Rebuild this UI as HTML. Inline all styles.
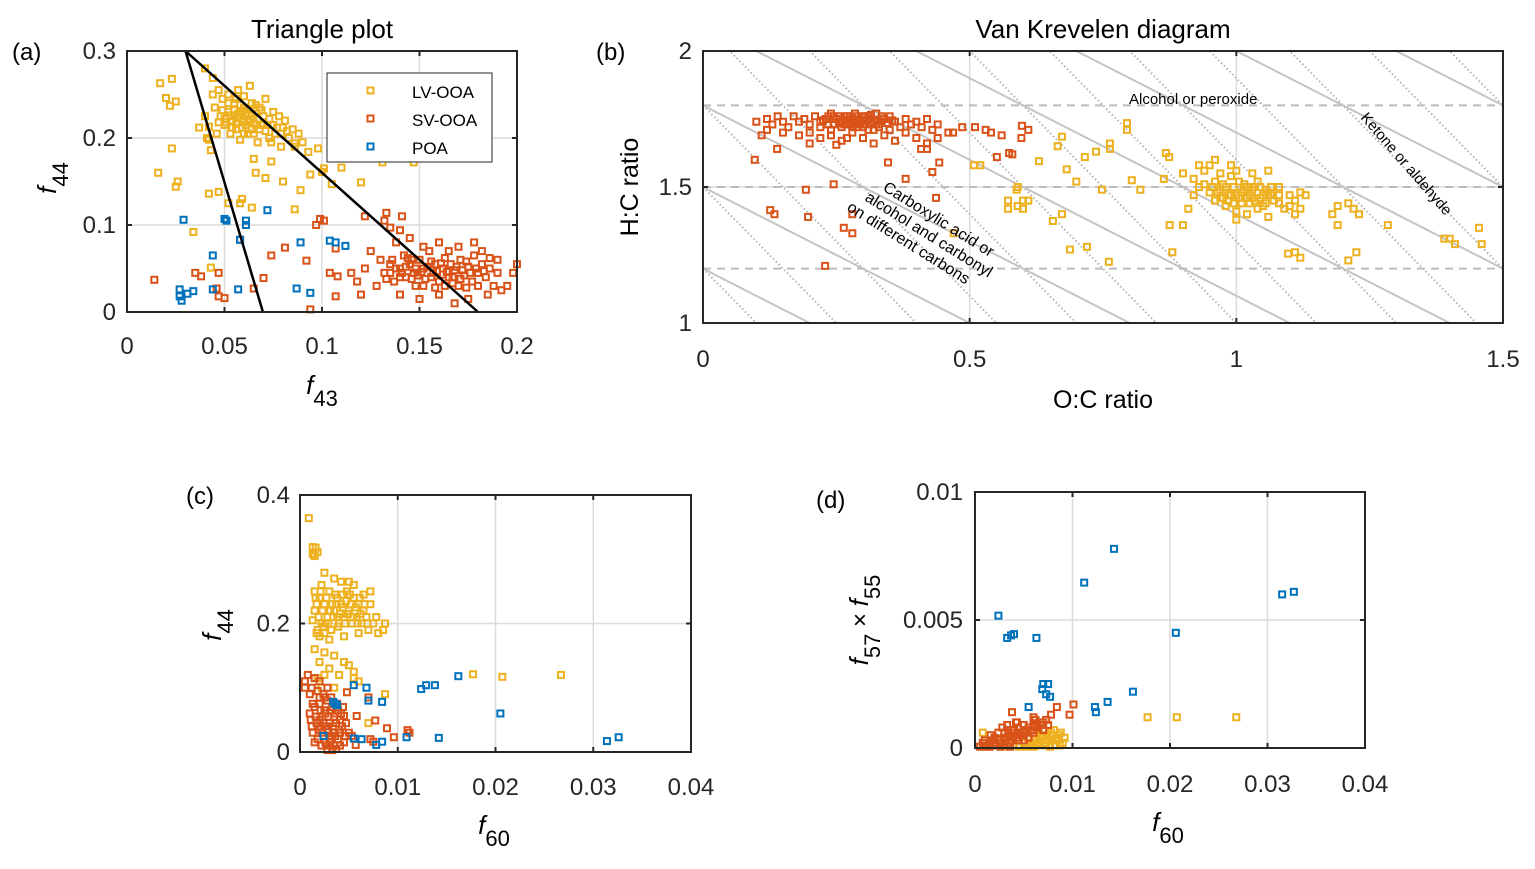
<!DOCTYPE html>
<html><head><meta charset="utf-8"><style>
html,body{margin:0;padding:0;background:#fff;}
svg{display:block;font-family:"Liberation Sans","DejaVu Sans",sans-serif;}
.tk{font-size:24px;fill:#262626;}
.ttl{font-size:26px;fill:#000;}
.lab{font-size:24px;fill:#000;}
</style></head><body>
<svg id="fig" width="1535" height="869" viewBox="0 0 1535 869" xmlns="http://www.w3.org/2000/svg">
<g id="grids"></g>
<g id="guides"></g>
<g id="marks"></g>
<g id="frames"></g>
<g id="texts">
<text class="lab" x="12" y="60">(a)</text>
<text class="lab" x="596" y="60">(b)</text>
<text class="lab" x="186" y="504">(c)</text>
<text class="lab" x="816" y="508">(d)</text>
<text class="ttl" x="322" y="38" text-anchor="middle">Triangle plot</text>
<text class="ttl" x="1103" y="38" text-anchor="middle">Van Krevelen diagram</text>
<text x="322" y="394" text-anchor="middle"><tspan font-style="italic" font-size="26">f</tspan><tspan font-size="22" dy="12">43</tspan></text>
<text transform="translate(56,178) rotate(-90)" text-anchor="middle"><tspan font-style="italic" font-size="26">f</tspan><tspan font-size="22" dy="12">44</tspan></text>
<text x="1103" y="408" text-anchor="middle" font-size="25">O:C ratio</text>
<text transform="translate(638,187) rotate(-90)" text-anchor="middle" font-size="25">H:C ratio</text>
<text x="494" y="834" text-anchor="middle"><tspan font-style="italic" font-size="26">f</tspan><tspan font-size="22" dy="12">60</tspan></text>
<text transform="translate(221,625) rotate(-90)" text-anchor="middle"><tspan font-style="italic" font-size="26">f</tspan><tspan font-size="22" dy="12">44</tspan></text>
<text x="1168" y="831" text-anchor="middle"><tspan font-style="italic" font-size="26">f</tspan><tspan font-size="22" dy="12">60</tspan></text>
<text transform="translate(868,620) rotate(-90)" text-anchor="middle"><tspan font-style="italic" font-size="26">f</tspan><tspan font-size="22" dy="12">57</tspan><tspan font-size="24" dy="-12"> × </tspan><tspan font-style="italic" font-size="26">f</tspan><tspan font-size="22" dy="12">55</tspan></text>
<text x="1129" y="104" font-size="15">Alcohol or peroxide</text>
<text transform="translate(1360,118) rotate(49)" font-size="15">Ketone or aldehyde</text>
<g transform="translate(882,190) rotate(32)" font-size="16">
<text x="0" y="0">Carboxylic acid or</text>
<text x="-10" y="18">alcohol and carbonyl</text>
<text x="-20" y="36">on different carbons</text>
</g>
<g>
<rect x="327" y="73" width="165" height="89" fill="#fff" stroke="#262626" stroke-width="1"/>
<rect x="367.5" y="87.5" width="6" height="6" fill="none" stroke="#EDB120" stroke-width="2"/>
<text x="412" y="98" font-size="17">LV-OOA</text>
<rect x="367.5" y="115.5" width="6" height="6" fill="none" stroke="#D95319" stroke-width="2"/>
<text x="412" y="126" font-size="17">SV-OOA</text>
<rect x="367.5" y="143.5" width="6" height="6" fill="none" stroke="#0072BD" stroke-width="2"/>
<text x="412" y="154" font-size="17">POA</text>
</g>
</g>
</svg>
<script>
// ---------- data ----------
const aXTicks=[0,0.05,0.1,0.15,0.2], aXTickLabels=["0","0.05","0.1","0.15","0.2"];
const aYTicks=[0,0.1,0.2,0.3], aYTickLabels=["0","0.1","0.2","0.3"];
const bXTicks=[0,0.5,1,1.5], bXTickLabels=["0","0.5","1","1.5"];
const bYTicks=[1,1.5,2], bYTickLabels=["1","1.5","2"];
const cXTicks=[0,0.01,0.02,0.03,0.04], cXTickLabels=["0","0.01","0.02","0.03","0.04"];
const cYTicks=[0,0.2,0.4], cYTickLabels=["0","0.2","0.4"];
const dXTicks=[0,0.01,0.02,0.03,0.04], dXTickLabels=["0","0.01","0.02","0.03","0.04"];
const dYTicks=[0,0.005,0.01], dYTickLabels=["0","0.005","0.01"];

const triangleLines=[[[0.030,0.3],[0.0697,0]],[[0.030,0.3],[0.18,0]]];
const vkSolidIntercepts=[1.2,1.5,1.8,2.1,2.4,2.7,3.0,3.3];
const vkDottedIntercepts=[1.2,1.5,1.8,2.1,2.4,2.7,3.0,3.3,3.6,3.9,4.2,4.5,4.8];
const vkDashedLevels=[1.8,1.5,1.2];

const aLV=[[0.045,0.235],[0.048,0.225],[0.05,0.215],[0.052,0.23],[0.054,0.22],[0.055,0.24],[0.056,0.21],[0.058,0.225],[0.06,0.235],[0.061,0.215],[0.062,0.205],[0.064,0.228],[0.065,0.218],[0.066,0.238],[0.068,0.21],[0.07,0.225],[0.072,0.215],[0.073,0.2],[0.075,0.23],[0.077,0.212],[0.079,0.205],[0.081,0.22],[0.083,0.2],[0.085,0.21],[0.04,0.225],[0.042,0.213],[0.046,0.205],[0.049,0.245],[0.052,0.25],[0.057,0.255],[0.06,0.248],[0.063,0.26],[0.047,0.255],[0.044,0.25],[0.058,0.198],[0.053,0.205],[0.067,0.195],[0.071,0.245],[0.074,0.195],[0.078,0.225],[0.088,0.205],[0.09,0.195],[0.086,0.19],[0.059,0.23],[0.055,0.225],[0.057,0.218],[0.062,0.222],[0.066,0.228],[0.05,0.222],[0.069,0.232],[0.064,0.21],[0.06,0.205],[0.037,0.212],[0.041,0.2],
[0.051,0.218],[0.053,0.226],[0.055,0.232],[0.056,0.216],[0.058,0.238],[0.059,0.212],[0.061,0.226],[0.062,0.232],[0.063,0.218],[0.065,0.205],[0.066,0.215],[0.067,0.222],[0.068,0.235],[0.07,0.215],[0.071,0.208],[0.073,0.222],[0.075,0.215],[0.076,0.205],[0.054,0.212],[0.052,0.24],[0.056,0.245],[0.06,0.22],[0.064,0.24],[0.057,0.228],[0.049,0.232],[0.047,0.218],[0.08,0.212],[0.082,0.208],
[0.017,0.263],[0.023,0.268],[0.020,0.246],[0.025,0.242],[0.022,0.237],[0.040,0.28],[0.044,0.269],[0.023,0.188],[0.016,0.16],[0.025,0.144],[0.026,0.15],[0.043,0.186],[0.042,0.198],[0.034,0.092],[0.042,0.136],[0.047,0.138],[0.052,0.125],[0.058,0.125],[0.064,0.12],[0.059,0.13],[0.065,0.176],[0.066,0.16],[0.071,0.154],[0.074,0.173],[0.08,0.15],[0.089,0.14],[0.086,0.118],[0.094,0.158],[0.093,0.184],[0.098,0.188],[0.1,0.161],[0.101,0.165],[0.11,0.166],[0.105,0.147],[0.12,0.149],[0.131,0.172],[0.147,0.172],[0.086,0.194],[0.079,0.19],[0.043,0.051]];
const aSV=[[0.13,0.06],[0.132,0.045],[0.135,0.055],[0.137,0.035],[0.14,0.05],[0.142,0.065],[0.143,0.04],[0.145,0.055],[0.147,0.045],[0.148,0.03],[0.15,0.06],[0.152,0.05],[0.153,0.038],[0.155,0.07],[0.157,0.045],[0.158,0.055],[0.16,0.035],[0.162,0.05],[0.163,0.062],[0.165,0.04],[0.166,0.055],[0.168,0.048],[0.17,0.03],[0.171,0.06],[0.173,0.042],[0.175,0.052],[0.177,0.035],[0.178,0.065],[0.18,0.045],[0.182,0.055],[0.184,0.04],[0.186,0.05],[0.188,0.03],[0.19,0.045],[0.192,0.025],[0.185,0.02],[0.175,0.015],[0.168,0.01],[0.16,0.02],[0.15,0.015],[0.14,0.02],[0.128,0.03],[0.122,0.05],[0.118,0.035],[0.115,0.045],[0.12,0.02],[0.125,0.07],[0.138,0.08],[0.145,0.085],[0.152,0.075],[0.16,0.08],[0.165,0.07],[0.17,0.075],[0.182,0.07],[0.186,0.062],[0.144,0.062],[0.148,0.05],[0.156,0.058],[0.135,0.045],[0.14,0.04],[0.162,0.043],[0.167,0.033],[0.174,0.028],[0.18,0.03],[0.178,0.08],[0.19,0.06],[0.2,0.055],[0.195,0.03],[0.198,0.045],
[0.138,0.05],[0.141,0.045],[0.143,0.052],[0.146,0.038],[0.149,0.042],[0.151,0.046],[0.154,0.052],[0.156,0.04],[0.159,0.047],[0.161,0.056],[0.164,0.046],[0.167,0.04],[0.169,0.052],[0.172,0.048],[0.176,0.045],[0.179,0.05],[0.183,0.047],[0.146,0.06],[0.152,0.03],[0.158,0.028],[0.163,0.03],[0.171,0.038],[0.174,0.058],[0.136,0.06],[0.133,0.038],
[0.014,0.037],[0.035,0.045],[0.038,0.041],[0.047,0.045],[0.046,0.027],[0.047,0.018],[0.05,0.016],[0.058,0.083],[0.065,0.027],[0.07,0.039],[0.074,0.065],[0.081,0.074],[0.092,0.059],[0.094,0.003],[0.097,0.1],[0.099,0.107],[0.101,0.105],[0.107,0.073],[0.107,0.018],[0.104,0.045],[0.108,0.041],[0.122,0.11],[0.133,0.114],[0.141,0.11],[0.132,0.105],[0.135,0.097],[0.14,0.094]];
const aPOA=[[0.029,0.106],[0.05,0.107],[0.051,0.105],[0.061,0.105],[0.061,0.1],[0.072,0.117],[0.058,0.083],[0.044,0.065],[0.027,0.026],[0.027,0.018],[0.028,0.013],[0.031,0.021],[0.034,0.024],[0.044,0.026],[0.057,0.026],[0.087,0.027],[0.094,0.022],[0.089,0.08],[0.104,0.082],[0.107,0.08],[0.112,0.076]];

const bSV=[[0.10,1.74],[0.12,1.75],[0.13,1.73],[0.14,1.76],[0.15,1.74],[0.16,1.72],[0.17,1.76],[0.18,1.74],[0.19,1.75],[0.2,1.73],[0.21,1.76],[0.22,1.74],[0.23,1.75],[0.24,1.77],[0.245,1.73],[0.25,1.75],[0.26,1.74],[0.265,1.76],[0.27,1.73],[0.28,1.75],[0.285,1.77],[0.29,1.74],[0.3,1.76],[0.305,1.73],[0.31,1.75],[0.32,1.74],[0.325,1.77],[0.33,1.73],[0.34,1.75],[0.35,1.76],[0.36,1.74],[0.37,1.72],[0.38,1.75],[0.39,1.73],[0.4,1.74],[0.41,1.72],[0.42,1.75],[0.43,1.71],[0.44,1.73],[0.12,1.71],[0.15,1.70],[0.18,1.69],[0.2,1.70],[0.22,1.68],[0.24,1.69],[0.26,1.67],[0.28,1.70],[0.3,1.68],[0.32,1.66],[0.34,1.69],[0.36,1.67],[0.38,1.70],[0.4,1.68],[0.42,1.66],[0.2,1.66],[0.25,1.655],[0.27,1.68],[0.29,1.72],[0.31,1.71],[0.33,1.72],[0.35,1.71],[0.26,1.72],[0.28,1.72],[0.3,1.72],[0.32,1.71],[0.27,1.76],[0.29,1.76],[0.31,1.76],[0.22,1.72],[0.24,1.71],[0.11,1.69],[0.44,1.68],
[0.225,1.745],[0.235,1.73],[0.245,1.76],[0.255,1.735],[0.265,1.745],[0.275,1.76],[0.285,1.73],[0.295,1.745],[0.305,1.76],[0.315,1.735],[0.325,1.745],[0.335,1.76],[0.345,1.735],[0.355,1.745],[0.235,1.76],[0.255,1.76],[0.275,1.735],[0.295,1.73],[0.315,1.765],[0.335,1.74],[0.285,1.745],[0.305,1.745],[0.265,1.73],[0.325,1.73],
[0.097,1.60],[0.139,1.64],[0.193,1.49],[0.245,1.51],[0.126,1.415],[0.134,1.40],[0.197,1.39],[0.28,1.40],[0.264,1.35],[0.28,1.33],[0.229,1.21],[0.347,1.59],[0.38,1.53],[0.437,1.46],[0.43,1.555],[0.443,1.59],[0.409,1.64],[0.42,1.64],[0.551,1.61],[0.574,1.625],[0.58,1.62],[0.51,1.72],[0.53,1.71],[0.54,1.70],[0.56,1.69],[0.598,1.725],[0.597,1.68],[0.61,1.71],[0.486,1.72],[0.469,1.70],[0.46,1.70]];
const bLV=[[0.9,1.55],[0.92,1.53],[0.93,1.5],[0.94,1.56],[0.95,1.48],[0.96,1.52],[0.97,1.46],[0.98,1.5],[0.99,1.54],[1.0,1.47],[1.01,1.44],[1.02,1.5],[1.03,1.46],[1.04,1.52],[1.05,1.43],[1.06,1.48],[1.07,1.45],[1.08,1.5],[1.09,1.42],[1.1,1.47],[1.11,1.45],[1.12,1.48],[1.13,1.47],[0.96,1.45],[0.98,1.43],[1.0,1.41],[1.02,1.4],[0.97,1.55],[1.0,1.56],[1.03,1.55],[0.95,1.58],[0.99,1.58],[1.06,1.56],[1.01,1.48],[0.99,1.47],[1.03,1.49],[1.05,1.47],[0.94,1.51],[0.92,1.47],[0.91,1.42],[1.08,1.44],[1.1,1.43],[1.04,1.42],[1.0,1.38],[1.06,1.39],[0.97,1.49],[1.02,1.46],[1.08,1.47],[0.93,1.58],[0.96,1.6],
[0.955,1.5],[0.965,1.48],[0.975,1.51],[0.985,1.47],[0.995,1.5],[1.005,1.46],[1.015,1.49],[1.025,1.47],[1.035,1.5],[1.045,1.46],[1.055,1.49],[1.065,1.47],[0.985,1.45],[1.005,1.52],[1.025,1.44],[1.045,1.5],[0.975,1.46],[1.015,1.51],[1.035,1.45],[1.065,1.5],[0.995,1.44],[1.055,1.44],
[0.795,1.735],[0.795,1.71],[0.673,1.685],[0.665,1.65],[0.763,1.66],[0.763,1.64],[0.737,1.63],[0.716,1.61],[0.63,1.595],[0.508,1.58],[0.52,1.58],[0.682,1.565],[0.70,1.52],[0.748,1.49],[0.804,1.525],[0.82,1.49],[0.864,1.53],[0.868,1.625],[0.874,1.61],[0.59,1.50],[0.588,1.49],[0.572,1.45],[0.572,1.42],[0.59,1.43],[0.60,1.45],[0.61,1.45],[0.6,1.42],[0.673,1.40],[0.656,1.375],[0.47,1.33],[0.688,1.27],[0.72,1.28],[0.761,1.225],[0.88,1.26],[0.875,1.36],[0.90,1.36],[1.097,1.255],[1.11,1.26],[1.12,1.24],[1.21,1.23],[1.225,1.26],[1.21,1.44],[1.22,1.42],[1.23,1.40],[1.19,1.43],[1.18,1.40],[1.19,1.36],[1.284,1.36],[1.39,1.31],[1.40,1.31],[1.41,1.29],[1.455,1.35],[1.46,1.29],[1.12,1.42],[1.11,1.40],[1.11,1.45]];

const cLV=[[0.0015,0.22],[0.002,0.24],[0.0022,0.2],[0.0025,0.23],[0.0028,0.21],[0.003,0.25],[0.0032,0.19],[0.0035,0.22],[0.0038,0.24],[0.004,0.2],[0.0042,0.23],[0.0045,0.21],[0.0048,0.25],[0.005,0.22],[0.0053,0.2],[0.0055,0.24],[0.0058,0.21],[0.006,0.23],[0.0063,0.2],[0.0065,0.22],[0.0068,0.21],[0.007,0.19],[0.0072,0.23],[0.0075,0.2],[0.0078,0.21],[0.008,0.185],[0.0085,0.19],[0.0087,0.2],[0.0015,0.25],[0.0018,0.19],[0.002,0.18],[0.0025,0.185],[0.003,0.175],[0.0035,0.27],[0.0042,0.265],[0.005,0.265],[0.0055,0.26],[0.0022,0.26],[0.0065,0.245],[0.0072,0.25],[0.0045,0.18],[0.006,0.185],[0.0013,0.205],[0.0033,0.23],[0.0047,0.235],[0.0038,0.21],
[0.0017,0.23],[0.0019,0.21],[0.0023,0.22],[0.0027,0.24],[0.0029,0.2],[0.0031,0.22],[0.0034,0.21],[0.0037,0.23],[0.0039,0.195],[0.0041,0.215],[0.0044,0.225],[0.0046,0.2],[0.0049,0.215],[0.0052,0.23],[0.0054,0.21],[0.0057,0.225],[0.0059,0.2],[0.0062,0.215],[0.0066,0.23],[0.0069,0.2],[0.0016,0.24],[0.0021,0.25],[0.0026,0.2],[0.0036,0.245],[0.0043,0.245],[0.0051,0.245],[0.0061,0.24],[0.0017,0.185],[0.0024,0.195],
[0.0015,0.16],[0.002,0.14],[0.0025,0.155],[0.003,0.13],[0.0035,0.15],[0.004,0.12],[0.0045,0.14],[0.005,0.135],[0.0055,0.125],[0.006,0.11],[0.0025,0.12],[0.0018,0.115],[0.0035,0.1],
[0.0009,0.364],[0.0013,0.319],[0.0016,0.318],[0.0013,0.308],[0.0015,0.305],[0.0018,0.311],[0.0025,0.279],[0.0087,0.09],[0.007,0.045],[0.0055,0.115],[0.0177,0.121],[0.0207,0.117],[0.0267,0.12],[0.0022,0.1]];
const cSV=[[0.001,0.06],[0.0012,0.04],[0.0015,0.07],[0.0018,0.02],[0.002,0.05],[0.0022,0.03],[0.0025,0.065],[0.0027,0.01],[0.003,0.045],[0.0032,0.025],[0.0035,0.055],[0.0037,0.005],[0.004,0.035],[0.0042,0.06],[0.0045,0.015],[0.0047,0.045],[0.005,0.03],[0.0015,0.015],[0.002,0.075],[0.0028,0.08],[0.0033,0.07],[0.0038,0.075],[0.0026,0.04],[0.003,0.02],[0.0034,0.04],[0.0023,0.055],[0.0019,0.035],[0.0041,0.05],[0.0036,0.025],[0.0028,0.003],[0.0033,0.003],[0.0012,0.1],[0.0005,0.11],[0.0008,0.12],[0.0015,0.115],[0.002,0.11],[0.0028,0.1],[0.0005,0.1],[0.001,0.09],
[0.0011,0.05],[0.0013,0.03],[0.0016,0.055],[0.0017,0.045],[0.0021,0.065],[0.0021,0.04],[0.0024,0.025],[0.0024,0.045],[0.0026,0.06],[0.0029,0.035],[0.0029,0.055],[0.0031,0.065],[0.0031,0.015],[0.0034,0.03],[0.0036,0.06],[0.0037,0.045],[0.0039,0.02],[0.0039,0.065],[0.0041,0.03],[0.0043,0.04],[0.0044,0.07],[0.0046,0.025],[0.0026,0.015],[0.0022,0.01],[0.0035,0.01],[0.0041,0.01],[0.002,0.085],[0.0025,0.085],[0.0032,0.085],[0.0013,0.075],[0.0018,0.095],[0.0024,0.09],
[0.0048,0.093],[0.007,0.085],[0.0058,0.056],[0.0077,0.049],[0.0089,0.037],[0.0096,0.023],[0.011,0.034],[0.0112,0.03],[0.0072,0.02],[0.0075,0.016],[0.0057,0.011],[0.0053,0.025],[0.0045,0.056]];
const cPOA=[[0.0055,0.104],[0.0068,0.1],[0.0034,0.078],[0.0036,0.075],[0.0038,0.073],[0.007,0.08],[0.0084,0.078],[0.0024,0.025],[0.0055,0.021],[0.0063,0.02],[0.0078,0.011],[0.0084,0.016],[0.0109,0.023],[0.0124,0.098],[0.0129,0.104],[0.0138,0.104],[0.0162,0.118],[0.0142,0.022],[0.0205,0.06],[0.0314,0.017],[0.0326,0.023]];

const dLV=[[0.001,0.00005],[0.002,0.0001],[0.003,0.00005],[0.004,0.0001],[0.005,0.0002],[0.0055,0.0001],[0.006,0.0003],[0.0065,0.0002],[0.007,0.0004],[0.0075,0.0003],[0.008,0.0005],[0.0085,0.0004],[0.009,0.0002],[0.0088,0.0006],[0.0078,0.0006],[0.0068,0.0005],[0.006,0.00005],[0.0072,0.0001],[0.0082,0.0001],[0.0008,0.0006],[0.0045,0.00005],
[0.0052,0.00005],[0.0058,0.0002],[0.0063,0.0001],[0.0067,0.0003],[0.0073,0.0002],[0.0077,0.00005],[0.0083,0.0003],[0.0087,0.0001],[0.0092,0.0004],[0.0081,0.0007],[0.0074,0.0005],[0.0086,0.0005],
[0.0177,0.0012],[0.0207,0.0012],[0.0268,0.0012],[0.0069,0.0003]];
const dSV=[[0.0005,0.00005],[0.001,0.0001],[0.0015,0.00015],[0.002,0.0002],[0.0025,0.0003],[0.003,0.0004],[0.0035,0.00045],[0.004,0.0005],[0.0045,0.0006],[0.005,0.0007],[0.0055,0.0008],[0.006,0.0009],[0.0065,0.0008],[0.007,0.001],[0.0075,0.0009],[0.001,0.0003],[0.002,0.0004],[0.003,0.0006],[0.004,0.0007],[0.005,0.0009],[0.0015,0.00005],[0.0025,0.0001],[0.0035,0.0002],[0.0045,0.0003],[0.0055,0.0004],[0.0028,0.0008],[0.0033,0.0009],[0.0042,0.001],[0.006,0.0006],[0.007,0.0007],
[0.0008,0.0002],[0.0012,0.00005],[0.0018,0.0003],[0.0022,0.0001],[0.0027,0.0002],[0.0032,0.0003],[0.0037,0.0003],[0.0038,0.0006],[0.0043,0.0004],[0.0048,0.0005],[0.0052,0.0006],[0.0058,0.0007],[0.0062,0.0008],[0.0068,0.0009],[0.0073,0.0011],[0.0024,0.0006],[0.0034,0.0007],[0.0044,0.0008],[0.0016,0.0005],[0.0026,0.00005],[0.0036,0.00005],[0.005,0.0003],
[0.0038,0.0014],[0.006,0.0012],[0.0062,0.0011],[0.0078,0.0013],[0.0084,0.0016],[0.0097,0.0013],[0.0101,0.0017],[0.0043,0.001]];
const dPOA=[[0.01426,0.00778],[0.0112,0.00646],[0.0024,0.00517],[0.0033,0.0043],[0.0037,0.0044],[0.004,0.00445],[0.0063,0.0043],[0.0206,0.0045],[0.0315,0.006],[0.0327,0.0061],[0.007,0.0025],[0.0069,0.0023],[0.0075,0.0025],[0.0073,0.0021],[0.0077,0.002],[0.0055,0.0016],[0.0123,0.0016],[0.0124,0.0014],[0.0136,0.0018],[0.0162,0.0022]];

// ---------- drawing ----------
const NS="http://www.w3.org/2000/svg";
const C={lv:"#EDB120",sv:"#D95319",poa:"#0072BD"};
function mk(tag,attrs,parent){const e=document.createElementNS(NS,tag);for(const k in attrs)e.setAttribute(k,attrs[k]);parent.appendChild(e);return e;}
const grids=document.getElementById('grids'),guides=document.getElementById('guides'),marks=document.getElementById('marks'),frames=document.getElementById('frames');

function makePanel(id,L,R,T,B,x0,x1,y0,y1){
  return {id,L,R,T,B,sx:v=>L+(v-x0)/(x1-x0)*(R-L),sy:v=>B-(v-y0)/(y1-y0)*(B-T)};
}
const PA=makePanel('a',127,517,51,312,0,0.2,0,0.3);
const PB=makePanel('b',703,1503,51,323,0,1.5,1,2);
const PC=makePanel('c',300,691,495,752,0,0.04,0,0.4);
const PD=makePanel('d',975,1365,492,748,0,0.04,0,0.01);

function axes(P,xt,xl,yt,yl,xLabY,yLabX){
  xt.forEach((v,i)=>{
    const x=P.sx(v);
    const g=mk('line',{x1:x,x2:x,y1:P.T,y2:P.B,stroke:'#dcdcdc','stroke-width':1.5},grids);
    
    
    mk('line',{x1:x,x2:x,y1:P.B,y2:P.B-5,stroke:'#262626','stroke-width':2},frames);
    mk('line',{x1:x,x2:x,y1:P.T,y2:P.T+5,stroke:'#262626','stroke-width':2},frames);
    const t=mk('text',{x:x,y:xLabY,'text-anchor':'middle',class:'tk'},frames);
    t.textContent=xl[i];
    
    
  });
  yt.forEach((v,i)=>{
    const y=P.sy(v);
    const g=mk('line',{x1:P.L,x2:P.R,y1:y,y2:y,stroke:'#dcdcdc','stroke-width':1.5},grids);
    
    
    mk('line',{x1:P.L,x2:P.L+5,y1:y,y2:y,stroke:'#262626','stroke-width':2},frames);
    mk('line',{x1:P.R,x2:P.R-5,y1:y,y2:y,stroke:'#262626','stroke-width':2},frames);
    const t=mk('text',{x:yLabX,y:y+8,'text-anchor':'end',class:'tk'},frames);
    t.textContent=yl[i];
    
    
  });
  const r=mk('rect',{x:P.L,y:P.T,width:P.R-P.L,height:P.B-P.T,fill:'none',stroke:'#262626','stroke-width':2},frames);
  
  
}
axes(PA,aXTicks,aXTickLabels,aYTicks,aYTickLabels,354,116);
axes(PB,bXTicks,bXTickLabels,bYTicks,bYTickLabels,367,692);
axes(PC,cXTicks,cXTickLabels,cYTicks,cYTickLabels,795,290);
axes(PD,dXTicks,dXTickLabels,dYTicks,dYTickLabels,792,963);

const defs=mk('defs',{},document.getElementById('fig'));
const cp=mk('clipPath',{id:'clipB'},defs);
mk('rect',{x:PB.L,y:PB.T,width:PB.R-PB.L,height:PB.B-PB.T},cp);
const gb=mk('g',{'clip-path':'url(#clipB)'},guides);
vkDottedIntercepts.forEach(c=>{
  const l=mk('line',{x1:PB.sx(0),y1:PB.sy(c),x2:PB.sx(c/2),y2:PB.sy(0),stroke:'#b4b4b4','stroke-width':2,'stroke-dasharray':'1.5,2.5'},gb);
  
  
});
vkSolidIntercepts.forEach(c=>{
  const l=mk('line',{x1:PB.sx(0),y1:PB.sy(c),x2:PB.sx(c),y2:PB.sy(0),stroke:'#c4c4c4','stroke-width':2},gb);
  
  
});
vkDashedLevels.forEach(v=>{
  const l=mk('line',{x1:PB.L,x2:PB.R,y1:PB.sy(v),y2:PB.sy(v),stroke:'#bdbdbd','stroke-width':2,'stroke-dasharray':'8,6'},gb);
  
  
});

function scatter(P,pts,color,name){
  const g=mk('g',{},marks);
  
  
  pts.forEach(p=>{
    const x=P.sx(p[0]),y=P.sy(p[1]);
    const r=mk('rect',{x:x-3,y:y-3,width:6,height:6,fill:'none',stroke:color,'stroke-width':2},g);
    
    
  });
}
scatter(PA,aLV,C.lv,'a-lv-ooa-series');
scatter(PA,aSV,C.sv,'a-sv-ooa-series');
scatter(PA,aPOA,C.poa,'a-poa-series');
triangleLines.forEach(s=>{
  const l=mk('line',{x1:PA.sx(s[0][0]),y1:PA.sy(s[0][1]),x2:PA.sx(s[1][0]),y2:PA.sy(s[1][1]),stroke:'#000','stroke-width':2.5},marks);
  
  
});
scatter(PB,bSV,C.sv,'b-sv-ooa-series');
scatter(PB,bLV,C.lv,'b-lv-ooa-series');
scatter(PC,cLV,C.lv,'c-lv-ooa-series');
scatter(PC,cSV,C.sv,'c-sv-ooa-series');
scatter(PC,cPOA,C.poa,'c-poa-series');
scatter(PD,dLV,C.lv,'d-lv-ooa-series');
scatter(PD,dSV,C.sv,'d-sv-ooa-series');
scatter(PD,dPOA,C.poa,'d-poa-series');
</script>
</body></html>
